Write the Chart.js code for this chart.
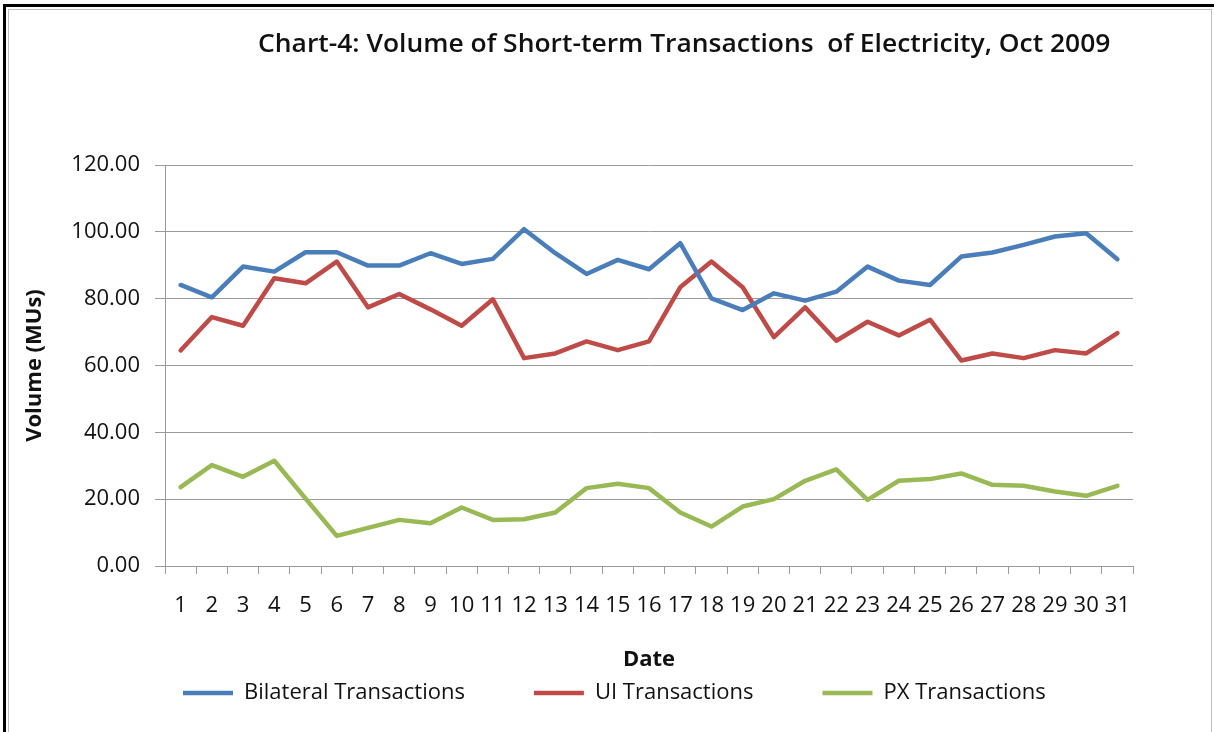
<!DOCTYPE html>
<html lang="en">
<head>
    <meta charset="UTF-8">
    <title>Chart-4: Volume of Short-term Transactions of Electricity, Oct 2009</title>
    <script src="https://cdn.jsdelivr.net/npm/chart.js@4/dist/chart.umd.min.js"></script>
    <style>
        body { margin: 0; background: #fff; }
        #wrap { position: relative; width: 1214px; height: 732px; overflow: hidden; background: #fff; }
        #outerFrame { position: absolute; left: 3px; top: 4px; width: 1240px; height: 800px; border: 3px solid #000; pointer-events: none; }
        #innerFrame { position: absolute; left: 8px; top: 9px; width: 1202px; height: 800px; border: 1px solid #bdbdbd; pointer-events: none; }
        #title {
            position: absolute; left: 258px; top: 24px; line-height: 36px;
            font-family: 'Open Sans', sans-serif; font-weight: 600; font-size: 26px;
            color: #111; white-space: pre; transform-origin: left center;
        }
    </style>
</head>
<body>
    <div id="wrap">
        <canvas id="chart"></canvas>
        <div id="outerFrame"></div>
        <div id="innerFrame"></div>
        <div id="title">Chart-4: Volume of Short-term Transactions  of Electricity, Oct 2009</div>
    </div>

    <script>
        // Data (October 2009, daily, MUs)
        const days = ['1', '2', '3', '4', '5', '6', '7', '8', '9', '10', '11', '12', '13', '14', '15', '16',
                      '17', '18', '19', '20', '21', '22', '23', '24', '25', '26', '27', '28', '29', '30', '31'];

        const bilateral = [84.1, 80.4, 89.6, 88.1, 93.9, 93.9, 89.9, 89.9, 93.6, 90.4, 91.9, 100.8, 93.6, 87.4, 91.6, 88.8,
                           96.6, 80.1, 76.6, 81.6, 79.4, 82.1, 89.6, 85.4, 84.1, 92.6, 93.8, 96.1, 98.6, 99.6, 91.8];

        const uiTrans = [64.5, 74.5, 71.9, 86.1, 84.6, 91.1, 77.4, 81.4, 76.8, 71.9, 79.8, 62.2, 63.6, 67.2, 64.6, 67.2,
                         83.4, 91.1, 83.4, 68.5, 77.4, 67.4, 73.1, 69.0, 73.7, 61.5, 63.6, 62.2, 64.6, 63.6, 69.7];

        const pxTrans = [23.6, 30.2, 26.7, 31.5, 20.2, 9.0, 11.4, 13.8, 12.8, 17.5, 13.8, 14.0, 16.0, 23.3, 24.6, 23.3,
                         16.0, 11.8, 17.8, 20.0, 25.5, 28.9, 19.8, 25.5, 26.0, 27.7, 24.3, 24.0, 22.3, 21.0, 24.0];

        const seriesNames = ['Bilateral Transactions', 'UI Transactions', 'PX Transactions'];
        const yTicks = { min: 0, max: 120, step: 20 };

        // fit the html title to the width it has in the reference
        const titleEl = document.getElementById('title');
        titleEl.style.transform = 'scaleX(' + (852 / titleEl.offsetWidth) + ')';

        Chart.defaults.font.family = "'Open Sans', sans-serif";
        Chart.defaults.color = '#111';

        const LEGEND_X = 183;   // left end of the first legend line
        const LEGEND_Y = 693;   // legend row centre
        const LEGEND_FONT = 22;

        // move the legend row to where Excel put it
        const placeLegend = {
            id: 'placeLegend',
            afterLayout(chart) {
                const lg = chart.legend;
                const pad = lg.options.labels.padding;
                const cur = (lg.left + pad + lg.right - lg.lineWidths[0]) / 2;
                const d = LEGEND_X - cur;
                lg.left += d;
                lg.right += d;
                lg.top = LEGEND_Y - pad - LEGEND_FONT / 2;
                lg.bottom = 732;
            }
        };

        function line(label, data, color) {
            return {
                label: label,
                data: data,
                borderColor: color,
                backgroundColor: color,
                borderWidth: 4.5,
                pointRadius: 0,
                pointHoverRadius: 0,
                tension: 0,
                borderJoinStyle: 'round',
                borderCapStyle: 'round'
            };
        }

        const ctx = document.getElementById('chart').getContext('2d');
        new Chart(ctx, {
            type: 'line',
            data: {
                labels: days,
                datasets: [
                    line(seriesNames[0], bilateral, '#4a7ebb'),
                    line(seriesNames[1], uiTrans, '#be4b48'),
                    line(seriesNames[2], pxTrans, '#98b954')
                ]
            },
            plugins: [placeLegend],
            options: {
                responsive: true,
                maintainAspectRatio: false,
                animation: false,
                layout: { padding: { left: 0, top: 165, right: 81, bottom: 0 } },
                plugins: {
                    title: { display: false },
                    tooltip: { enabled: false },
                    legend: {
                        position: 'bottom',
                        maxHeight: 56,
                        labels: {
                            usePointStyle: true,
                            pointStyle: 'line',
                            pointStyleWidth: 50,
                            padding: 69,
                            color: '#111',
                            font: { size: LEGEND_FONT }
                        }
                    }
                },
                scales: {
                    x: {
                        offset: true,
                        grid: {
                            offset: true,
                            drawOnChartArea: false,
                            drawTicks: true,
                            tickLength: 8,
                            color: '#9a9a9a'
                        },
                        border: { color: '#9a9a9a' },
                        ticks: {
                            autoSkip: false,
                            maxRotation: 0,
                            padding: 19,
                            font: { size: 22 }
                        },
                        title: {
                            display: true,
                            text: 'Date',
                            font: { size: 22, weight: 'bold' },
                            padding: { top: 0, bottom: 3 }
                        },
                        afterFit: s => { s.height = 110; }
                    },
                    y: {
                        min: yTicks.min,
                        max: yTicks.max,
                        grid: { color: '#9a9a9a', tickLength: 10 },
                        border: { color: '#9a9a9a' },
                        ticks: {
                            stepSize: yTicks.step,
                            padding: 15,
                            font: { size: 22 },
                            callback: v => v.toFixed(2)
                        },
                        title: {
                            display: true,
                            text: 'Volume (MUs)',
                            font: { size: 22, weight: 'bold' },
                            padding: { top: 22, bottom: 0 }
                        },
                        afterFit: s => { s.width = 165; }
                    }
                }
            }
        });
    </script>
</body>
</html>
